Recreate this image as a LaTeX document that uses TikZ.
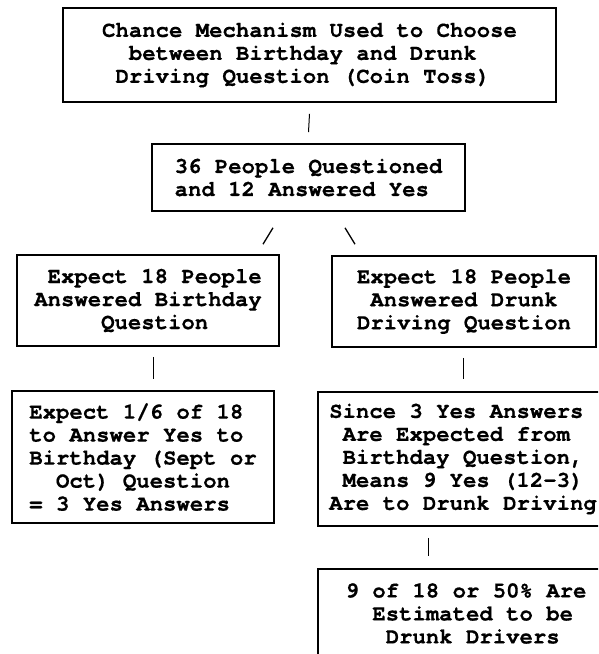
\documentclass[tikz,border=0pt]{standalone}
\usepackage{fontspec}
\setmonofont{TeX Gyre Cursor}[BoldFeatures={FakeBold=0.5}]
\usetikzlibrary{calc}
\begin{document}
\begin{tikzpicture}[x=1pt,y=-1pt,
  box/.style={draw, line width=1.6pt, rectangle, inner sep=0pt, align=left,
    font=\ttfamily\bfseries\fontsize{22.3}{23}\selectfont},
  link/.style={line width=1pt}]
\useasboundingbox (0,0) rectangle (598,654);
\clip (0,0) rectangle (598,654);
\node[box, minimum width=493pt, minimum height=94pt] (b1) at (309.5,55)
  {Chance Mechanism Used to Choose\\\hphantom{xx}between Birthday and Drunk\\\hphantom{x}Driving Question (Coin Toss)};
\node[box, minimum width=313pt, minimum height=67pt] (b2) at (308.5,177.5)
  {36 People Questioned\\and 12 Answered Yes};
\node[box, minimum width=262pt, minimum height=91pt] (b3) at (148,300.5)
  {\hphantom{x}Expect 18 People\\Answered Birthday\\\hphantom{xxxxx}Question};
\node[box, minimum width=264pt, minimum height=91pt] (b4) at (464,301.5)
  {Expect 18 People\\\hphantom{x}Answered Drunk\\Driving Question};
\node[box, minimum width=262pt, minimum height=132pt] (b5) at (143,457)
  {Expect 1/6 of 18\\to Answer Yes to\\Birthday (Sept or\\\hphantom{xx}Oct) Question\\= 3 Yes Answers};
\node[box, minimum width=290pt, minimum height=134pt] (b6) at (463,459)
  {Since 3 Yes Answers\\\hphantom{x}Are Expected from\\\hphantom{x}Birthday Question,\\\hphantom{x}Means 9 Yes (12-3)\\Are to Drunk Driving};
\node[box, minimum width=296pt, minimum height=89pt] (b7) at (466,613.5)
  {9 of 18 or 50\% Are\\\hphantom{xx}Estimated to be\\\hphantom{xxx}Drunk Drivers};
\draw[link] ($(b1.south)+(0,11)$) -- ($(b2.north)+(0,-11)$);
\draw[link, line width=1.3pt] ($(b2.south)+(-35.5,16)$) -- ($(b3.north)+(115,-10)$);
\draw[link, line width=1.3pt] ($(b2.south)+(36.5,16)$) -- ($(b4.north)+(-109,-11)$);
\draw[link] ($(b3.south)+(5,10)$) -- ($(b5.north)+(10,-11)$);
\draw[link] ($(b4.south)+(-1,10)$) -- ($(b6.north)+(0,-12)$);
\draw[link] ($(b6.south)+(-35,11)$) -- ($(b7.north)+(-38,-12)$);
\end{tikzpicture}
\end{document}
